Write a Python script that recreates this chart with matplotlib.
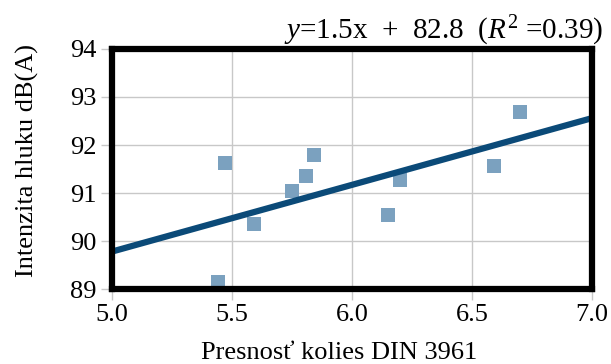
import numpy as np
import matplotlib
matplotlib.use('Agg')
import matplotlib.pyplot as plt

# data
presnost = [5.44, 5.47, 5.59, 5.75, 5.81, 5.84, 6.15, 6.20, 6.59, 6.70]
hluk = [89.15, 91.62, 90.35, 91.04, 91.36, 91.80, 90.54, 91.27, 91.56, 92.69]
trend_x = [5.0, 7.0]
trend_y = [89.78, 92.56]
x_ticks = [5.0, 5.5, 6.0, 6.5, 7.0]
y_ticks = [89, 90, 91, 92, 93, 94]

plt.rcParams['font.family'] = ['Liberation Serif', 'DejaVu Serif']
plt.rcParams['mathtext.fontset'] = 'custom'
plt.rcParams['mathtext.rm'] = 'Liberation Serif'
plt.rcParams['mathtext.it'] = 'Liberation Serif:italic'

fig = plt.figure(figsize=(6.11, 3.64), dpi=100)
ax = fig.add_axes([0.1833, 0.206, 0.7857, 0.6594])

ax.grid(True, color='#c8c8c8', linewidth=1.0, zorder=0)
ax.scatter(presnost, hluk, marker='s', s=95, color='#7ba1bf', zorder=3, linewidths=0)
ax.plot(trend_x, trend_y, color='#0b4a78', linewidth=4.5, solid_capstyle='round', zorder=4)

ax.set_xlim(5.0, 7.0)
ax.set_ylim(89, 94)
ax.set_xticks(x_ticks)
ax.set_xticklabels(['%.1f' % v for v in x_ticks])
ax.set_yticks(y_ticks)
ax.tick_params(axis='both', direction='out', length=8, width=1, color='#c8c8c8',
               labelsize=19, pad=3)

for sp in ax.spines.values():
    sp.set_linewidth(4.5)
    sp.set_color('black')
    sp.set_zorder(5)

ax.set_xlabel('Presnosť kolies DIN 3961', fontsize=19)
ax.xaxis.set_label_coords(0.473, -0.222)
ax.set_ylabel('Intenzita hluku dB(A)', fontsize=19)
ax.yaxis.set_label_coords(-0.152, 0.537)

fig.text(603 / 611, 1 - 39 / 364, r'$y$=1.5x  +  82.8  ($R^{2}$ =0.39)',
         fontsize=21, ha='right', va='baseline')

fig.savefig('out.png', dpi=100)
